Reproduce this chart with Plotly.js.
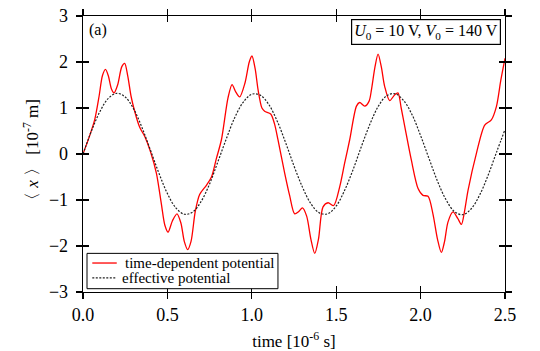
<!DOCTYPE html>
<html>
<head>
<meta charset="utf-8">
<script src="https://cdn.plot.ly/plotly-3.0.1.min.js"></script>
<style>
  body { margin: 0; background: #fff; }
  #chart { width: 540px; height: 351px; }
</style>
</head>
<body>
<div id="chart"></div>
<script>
// time-dependent potential (red)
let tRed = [0.000, 0.035, 0.069, 0.095, 0.115, 0.133, 0.150, 0.168, 0.184, 0.205, 0.230, 0.247, 0.265, 0.285, 0.306, 0.336, 0.366, 0.400, 0.435, 0.464, 0.485, 0.504, 0.530, 0.557, 0.580, 0.600, 0.620, 0.640, 0.665, 0.691, 0.731, 0.761, 0.790, 0.820, 0.859, 0.883, 0.905, 0.928, 0.960, 0.985, 1.001, 1.020, 1.037, 1.060, 1.076, 1.112, 1.135, 1.155, 1.195, 1.224, 1.254, 1.278, 1.300, 1.325, 1.350, 1.373, 1.395, 1.422, 1.452, 1.485, 1.521, 1.550, 1.580, 1.620, 1.639, 1.669, 1.695, 1.709, 1.730, 1.748, 1.767, 1.787, 1.817, 1.847, 1.866, 1.885, 1.906, 1.945, 1.985, 2.014, 2.044, 2.073, 2.100, 2.123, 2.142, 2.162, 2.192, 2.220, 2.242, 2.260, 2.281, 2.331, 2.380, 2.419, 2.449, 2.475, 2.500];
let xRed = [0.00, 0.35, 0.74, 1.25, 1.70, 1.84, 1.70, 1.42, 1.33, 1.50, 1.90, 1.97, 1.70, 1.25, 0.93, 0.58, 0.38, 0.05, -0.42, -1.08, -1.55, -1.70, -1.45, -1.30, -1.50, -1.90, -2.08, -1.90, -1.25, -0.88, -0.68, -0.50, -0.10, 0.31, 1.22, 1.51, 1.35, 1.24, 1.55, 2.00, 2.13, 1.85, 1.40, 1.00, 0.93, 0.87, 0.65, 0.31, -0.42, -0.90, -1.30, -1.25, -1.17, -1.35, -1.85, -2.16, -1.85, -1.15, -1.06, -1.12, -0.71, -0.20, 0.31, 1.04, 1.12, 1.04, 1.15, 1.40, 1.90, 2.17, 1.90, 1.47, 1.16, 1.29, 1.33, 1.00, 0.60, -0.13, -0.75, -0.90, -0.92, -1.30, -1.85, -2.14, -1.90, -1.48, -1.26, -1.40, -1.53, -1.25, -0.79, 0.02, 0.63, 0.74, 1.03, 1.60, 2.08];

// effective potential (dotted)
let tEff = [0.00, 0.05, 0.10, 0.15, 0.20, 0.25, 0.30, 0.35, 0.40, 0.45, 0.50, 0.55, 0.60, 0.65, 0.70, 0.75, 0.80, 0.85, 0.90, 0.95, 1.00, 1.05, 1.10, 1.15, 1.20, 1.25, 1.30, 1.35, 1.40, 1.45, 1.50, 1.55, 1.60, 1.65, 1.70, 1.75, 1.80, 1.85, 1.90, 1.95, 2.00, 2.05, 2.10, 2.15, 2.20, 2.25, 2.30, 2.35, 2.40, 2.45, 2.50];
let xEff = [0.00, 0.50, 0.92, 1.21, 1.32, 1.24, 0.98, 0.57, 0.08, -0.42, -0.86, -1.17, -1.31, -1.26, -1.03, -0.65, -0.16, 0.34, 0.80, 1.13, 1.30, 1.28, 1.08, 0.72, 0.25, -0.26, -0.72, -1.08, -1.28, -1.30, -1.13, -0.79, -0.34, 0.17, 0.65, 1.04, 1.27, 1.31, 1.16, 0.85, 0.40, -0.10, -0.59, -0.99, -1.25, -1.32, -1.19, -0.89, -0.46, 0.04, 0.53];

let xTicks = [0, 0.5, 1, 1.5, 2, 2.5];
let xTickText = ["0.0", "0.5", "1.0", "1.5", "2.0", "2.5"];
let yTicks = [-3, -2, -1, 0, 1, 2, 3];
let seriesNames = ["time-dependent potential", "effective potential"];

let serif = "Liberation Serif";
let redLine = { color: "#ff0000", width: 1.3 };
let dotLine = { color: "#222222", width: 1.2, dash: "2px,1.5px" };

let traces = [
  {
    x: tRed, y: xRed,
    mode: "lines",
    name: seriesNames[0],
    line: Object.assign({ shape: "spline", smoothing: 0.8 }, redLine),
  },
  {
    x: tEff, y: xEff,
    mode: "lines",
    name: seriesNames[1],
    line: Object.assign({ shape: "spline" }, dotLine),
  },
];

let axisBase = {
  showgrid: false,
  zeroline: false,
  showline: true,
  linecolor: "#000",
  linewidth: 1.3,
  mirror: "ticks",
  tickcolor: "#000",
  tickwidth: 1.3,
  tickfont: { family: serif, size: 18, color: "#000" },
};

// compact legend box (plotly's own legend rows are too tall here)
let legendShapes = [
  { type: "rect", xref: "paper", yref: "paper", x0: 0.0095, x1: 0.462, y0: 0.012, y1: 0.14,
    fillcolor: "#fff", line: { color: "#000", width: 1 }, layer: "above" },
  { type: "line", xref: "paper", yref: "paper", x0: 0.022, x1: 0.08, y0: 0.105, y1: 0.105,
    line: redLine, layer: "above" },
  { type: "line", xref: "paper", yref: "paper", x0: 0.022, x1: 0.08, y0: 0.051, y1: 0.051,
    line: dotLine, layer: "above" },
];

let layout = {
  width: 540,
  height: 351,
  margin: { l: 83, r: 35, t: 16, b: 59 },
  paper_bgcolor: "#fff",
  plot_bgcolor: "#fff",
  font: { family: serif, size: 18, color: "#000" },
  showlegend: false,
  xaxis: Object.assign({}, axisBase, {
    range: [0, 2.5],
    tickvals: xTicks,
    ticktext: xTickText,
    ticks: "outside",
    ticklen: 6,
    title: { text: "time [10<sup>-6</sup> s]", font: { family: serif, size: 17 }, standoff: 11 },
  }),
  xaxis2: Object.assign({}, axisBase, {
    overlaying: "x",
    matches: "x",
    tickvals: xTicks,
    ticks: "inside",
    ticklen: 6,
    showticklabels: false,
  }),
  yaxis: Object.assign({}, axisBase, {
    range: [-3, 3],
    tickvals: yTicks,
    ticks: "outside",
    ticklen: 6,
    ticklabelstandoff: 4,
    title: { text: "〈 <i>x</i> 〉 [10<sup>-7</sup> m]", font: { family: serif, size: 17 }, standoff: 6 },
  }),
  yaxis2: Object.assign({}, axisBase, {
    overlaying: "y",
    matches: "y",
    tickvals: yTicks,
    ticks: "inside",
    ticklen: 6,
    showticklabels: false,
  }),
  shapes: legendShapes,
  annotations: [
    {
      xref: "paper", yref: "paper", x: 0.094, y: 0.105,
      xanchor: "left", yanchor: "middle",
      text: seriesNames[0], showarrow: false,
      font: { family: serif, size: 15 },
    },
    {
      xref: "paper", yref: "paper", x: 0.087, y: 0.051,
      xanchor: "left", yanchor: "middle",
      text: seriesNames[1], showarrow: false,
      font: { family: serif, size: 15 },
    },
    {
      xref: "paper", yref: "paper", x: 0.009, y: 0.99,
      xanchor: "left", yanchor: "top",
      text: "(a)", showarrow: false,
      font: { family: serif, size: 16 },
    },
    {
      xref: "paper", yref: "paper", x: 0.99, y: 0.99,
      xanchor: "right", yanchor: "top",
      text: "<i>U</i><sub>0</sub> = 10 V, <i>V</i><sub>0</sub> = 140 V",
      showarrow: false,
      font: { family: serif, size: 16 },
      bgcolor: "#fff",
      bordercolor: "#000",
      borderwidth: 1.2,
      borderpad: 2,
    },
  ],
};

// dummy trace so the overlay axes get drawn
traces.push({ x: [0], y: [0], xaxis: "x2", yaxis: "y2", mode: "markers", marker: { opacity: 0 }, showlegend: false, hoverinfo: "skip" });

Plotly.newPlot("chart", traces, layout, { displayModeBar: false, staticPlot: true });
</script>
</body>
</html>
